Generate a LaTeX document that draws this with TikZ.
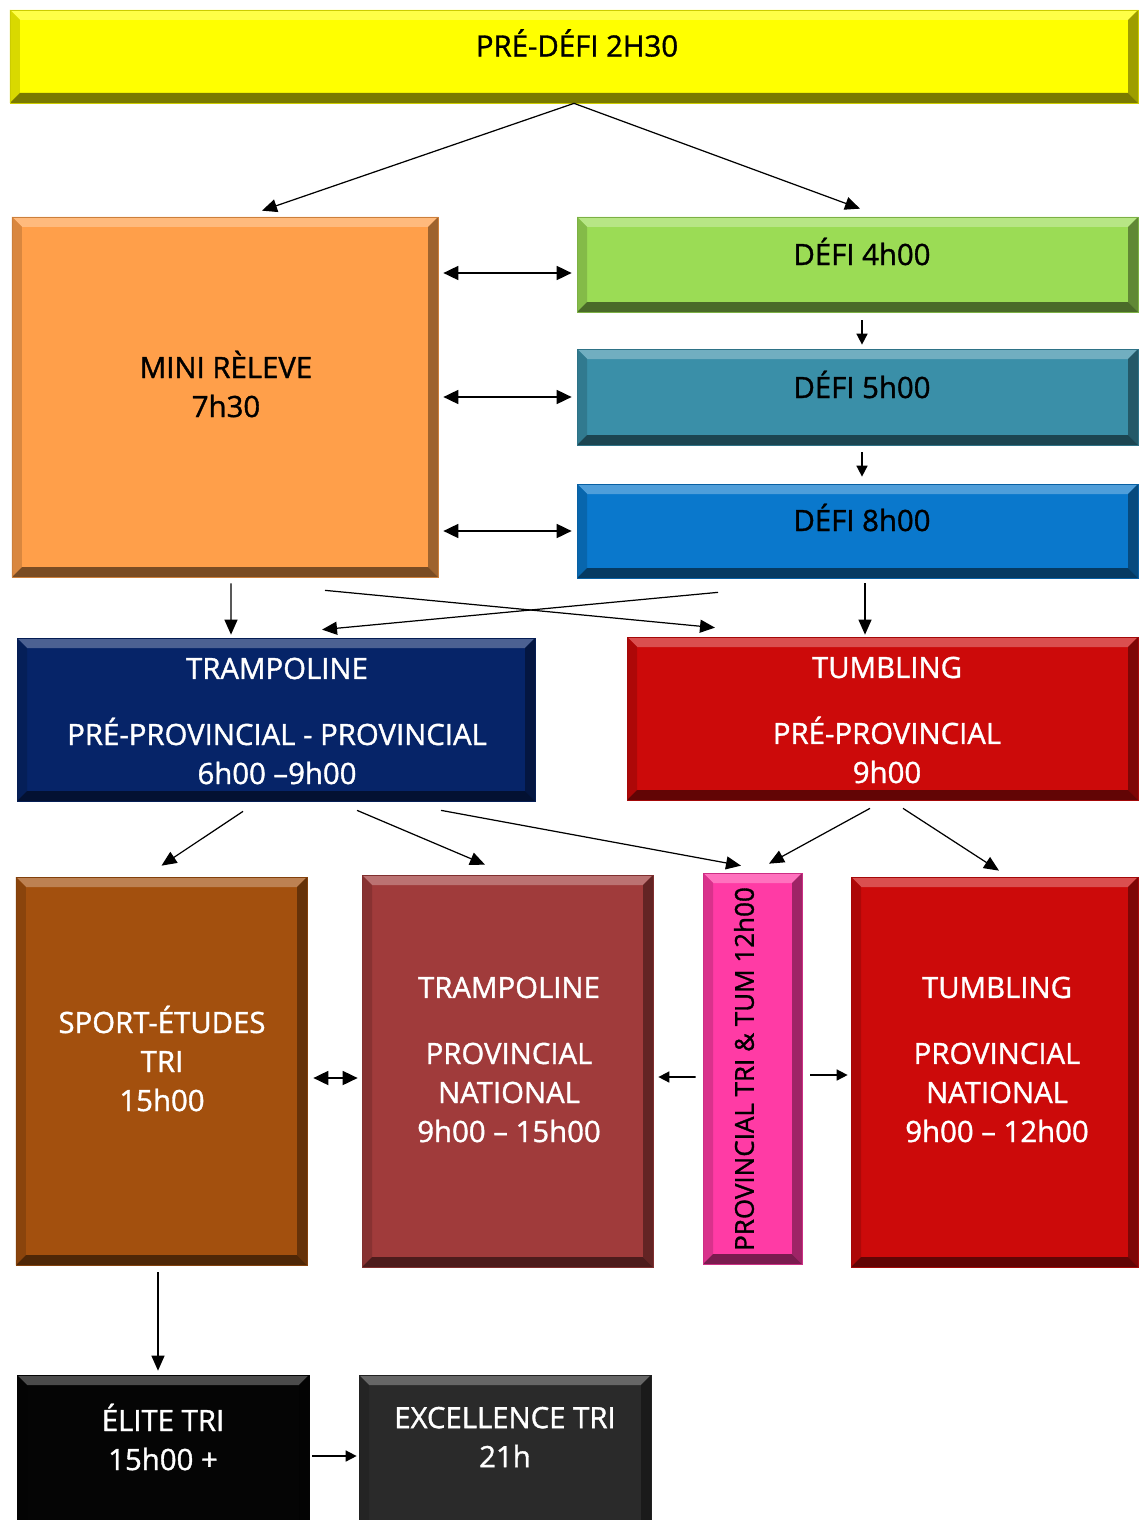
\documentclass[tikz,border=0pt]{standalone}
\usepackage{fontspec}
\setmainfont{Open Sans}
\newfontfamily\lblfont{Open Sans}[FakeBold=1.2]
\usetikzlibrary{arrows.meta}
\definecolor{cYellow}{HTML}{FFFF00}
\definecolor{cOrange}{HTML}{FF9F4A}
\definecolor{cGreen}{HTML}{9BDC55}
\definecolor{cTeal}{HTML}{3A8FA8}
\definecolor{cBlue}{HTML}{0A78CC}
\definecolor{cNavy}{HTML}{062468}
\definecolor{cRed}{HTML}{CC0A0A}
\definecolor{cBrown}{HTML}{A3500E}
\definecolor{cMaroon}{HTML}{A03B3B}
\definecolor{cPink}{HTML}{FF3BA5}
\definecolor{cBlack}{HTML}{050505}
\definecolor{cDark}{HTML}{2A2A2A}
\newcommand{\bevw}{0.2}
\begin{document}
\begin{tikzpicture}
    [
    bevel/.style={
      rectangle,
      inner sep=0pt,
      fill=#1,
      draw=#1!80!black,
      line width=0.4pt,
      path picture={
        \path (path picture bounding box.north west) coordinate (nw)
          (path picture bounding box.north east) coordinate (ne)
          (path picture bounding box.south west) coordinate (sw)
          (path picture bounding box.south east) coordinate (se);
        \fill[#1!72!white] (nw) -- (ne) -- ([shift={(-\bevw,-\bevw)}]ne)
          -- ([shift={(\bevw,-\bevw)}]nw) -- cycle;
        \fill[#1!85!black] (nw) -- (sw) -- ([shift={(\bevw,\bevw)}]sw)
          -- ([shift={(\bevw,-\bevw)}]nw) -- cycle;
        \fill[#1!62!black] (ne) -- (se) -- ([shift={(-\bevw,\bevw)}]se)
          -- ([shift={(-\bevw,-\bevw)}]ne) -- cycle;
        \fill[#1!48!black] (sw) -- (se) -- ([shift={(-\bevw,\bevw)}]se)
          -- ([shift={(\bevw,\bevw)}]sw) -- cycle;
      }
    },
    lbl/.style={
      align=center,
      font=\lblfont\fontsize{16.7}{22.2}\selectfont,
      text=black
    },
    lblw/.style={
      lbl,
      text=white
    },
    arr/.style={
      line width=0.7pt,
      -{Triangle[length=0.3cm,width=0.26cm]}
    },
    darr/.style={
      line width=1pt,
      {Triangle[length=0.3cm,width=0.28cm]}-{Triangle[length=0.3cm,width=0.28cm]}
    },
    sarr/.style={
      line width=0.9pt,
      -{Triangle[length=0.22cm,width=0.22cm]}
    }
    ]
    \useasboundingbox (0,0) rectangle (22.8,-30.4);
    % boxes
    \node (predefi) at (11.48,-1.13) [bevel=cYellow, minimum width=22.56cm, minimum height=1.86cm] {};
    \node (mini) at (4.5,-7.94) [bevel=cOrange, minimum width=8.52cm, minimum height=7.2cm] {};
    \node (defi4) at (17.15,-5.29) [bevel=cGreen, minimum width=11.22cm, minimum height=1.9cm] {};
    \node (defi5) at (17.15,-7.94) [bevel=cTeal, minimum width=11.22cm, minimum height=1.92cm] {};
    \node (defi8) at (17.15,-10.62) [bevel=cBlue, minimum width=11.22cm, minimum height=1.88cm] {};
    \node (trampo) at (5.52,-14.39) [bevel=cNavy, minimum width=10.36cm, minimum height=3.26cm] {};
    \node (tumbling) at (17.65,-14.37) [bevel=cRed, minimum width=10.22cm, minimum height=3.26cm] {};
    \node (sport) at (3.23,-21.42) [bevel=cBrown, minimum width=5.82cm, minimum height=7.76cm] {};
    \node (trampnat) at (10.15,-21.42) [bevel=cMaroon, minimum width=5.82cm, minimum height=7.84cm] {};
    \node (provtri) at (15.05,-21.37) [bevel=cPink, minimum width=1.98cm, minimum height=7.82cm] {};
    \node (tumbnat) at (19.89,-21.44) [bevel=cRed, minimum width=5.74cm, minimum height=7.8cm] {};
    \node (elite) at (3.26,-29.35) [bevel=cBlack, minimum width=5.84cm, minimum height=3.7cm] {};
    \node (excel) at (10.1,-29.35) [bevel=cDark, minimum width=5.84cm, minimum height=3.7cm] {};
    % texts
    \node (predefiT) at (11.54,-0.86) [lbl] {PRÉ-DÉFI 2H30};
    \node (miniT) at (4.52,-7.68) [lbl] {MINI RÈLEVE\\7h30};
    \node (defi4T) at (17.24,-5.03) [lbl] {DÉFI 4h00};
    \node (defi5T) at (17.24,-7.69) [lbl] {DÉFI 5h00};
    \node (defi8T) at (17.24,-10.35) [lbl] {DÉFI 8h00};
    \node (trampoT) at (5.54,-14.42) [lblw] {TRAMPOLINE\\[0.54cm]PRÉ-PROVINCIAL - PROVINCIAL\\6h00 –9h00};
    \node (tumblingT) at (17.74,-14.4) [lblw] {TUMBLING\\[0.54cm]PRÉ-PROVINCIAL\\9h00};
    \node (sportT) at (3.24,-21.17) [lblw] {SPORT-ÉTUDES\\TRI\\15h00};
    \node (trampnatT) at (10.18,-21.19) [lblw] {TRAMPOLINE\\[0.54cm]PROVINCIAL\\NATIONAL\\9h00 – 15h00};
    \node (provtriT) at (14.88,-21.38) [lbl, font=\lblfont\fontsize{14.8}{18}\selectfont, rotate=90] {PROVINCIAL TRI \& TUM 12h00};
    \node (tumbnatT) at (19.94,-21.19) [lblw] {TUMBLING\\[0.54cm]PROVINCIAL\\NATIONAL\\9h00 – 12h00};
    \node (eliteT) at (3.26,-28.74) [lblw] {ÉLITE TRI\\15h00 +};
    \node (excelT) at (10.1,-28.74) [lblw] {EXCELLENCE TRI\\21h};
    % connectors
    \draw[arr] (predefi.south) -- ([xshift=0.74cm,yshift=0.12cm]mini.north);
    \draw[arr] (predefi.south) -- ([xshift=0.05cm,yshift=0.16cm]defi4.north);
    \draw[darr] ([xshift=0.1cm,yshift=2.48cm]mini.east) -- ([xshift=-0.1cm,yshift=-0.17cm]defi4.west);
    \draw[darr] ([xshift=0.1cm]mini.east) -- ([xshift=-0.1cm]defi5.west);
    \draw[darr] ([xshift=0.1cm,yshift=-2.68cm]mini.east) -- ([xshift=-0.1cm]defi8.west);
    \draw[sarr] ([xshift=0.09cm,yshift=-0.16cm]defi4.south) -- ([xshift=0.09cm,yshift=0.08cm]defi5.north);
    \draw[sarr] ([xshift=0.09cm,yshift=-0.14cm]defi5.south) -- ([xshift=0.09cm,yshift=0.14cm]defi8.north);
    \draw[arr] ([xshift=0.12cm,yshift=-0.12cm]mini.south) -- ([xshift=-0.9cm,yshift=0.06cm]trampo.north);
    \draw[arr] ([xshift=2cm,yshift=-0.26cm]mini.south) -- ([xshift=-3.35cm,yshift=0.18cm]tumbling.north);
    \draw[arr] ([xshift=-2.79cm,yshift=-0.28cm]defi8.south) -- ([xshift=0.92cm,yshift=0.16cm]trampo.north);
    \draw[arr] ([xshift=0.15cm,yshift=-0.1cm]defi8.south) -- ([xshift=-0.35cm,yshift=0.04cm]tumbling.north);
    \draw[arr] ([xshift=-0.66cm,yshift=-0.2cm]trampo.south) -- ([yshift=0.22cm]sport.north);
    \draw[arr] ([xshift=1.62cm,yshift=-0.18cm]trampo.south) -- ([xshift=-0.45cm,yshift=0.2cm]trampnat.north);
    \draw[arr] ([xshift=3.3cm,yshift=-0.18cm]trampo.south) -- ([xshift=-0.23cm,yshift=0.14cm]provtri.north);
    \draw[arr] ([xshift=-0.25cm,yshift=-0.16cm]tumbling.south) -- ([xshift=0.33cm,yshift=0.18cm]provtri.north);
    \draw[arr] ([xshift=0.41cm,yshift=-0.16cm]tumbling.south) -- ([xshift=0.09cm,yshift=0.12cm]tumbnat.north);
    \draw[darr] ([xshift=0.12cm,yshift=-0.14cm]sport.east) -- ([xshift=-0.08cm,yshift=-0.14cm]trampnat.west);
    \draw[sarr] ([xshift=-0.14cm,yshift=-0.17cm]provtri.west) -- ([xshift=0.1cm,yshift=-0.12cm]trampnat.east);
    \draw[sarr] ([xshift=0.16cm,yshift=-0.13cm]provtri.east) -- ([xshift=-0.06cm,yshift=-0.06cm]tumbnat.west);
    \draw[arr] ([xshift=-0.07cm,yshift=-0.14cm]sport.south) -- ([xshift=-0.1cm,yshift=0.08cm]elite.north);
    \draw[sarr] ([xshift=0.06cm,yshift=0.23cm]elite.east) -- ([xshift=-0.04cm,yshift=0.23cm]excel.west);
  \end{tikzpicture}
\end{document}
